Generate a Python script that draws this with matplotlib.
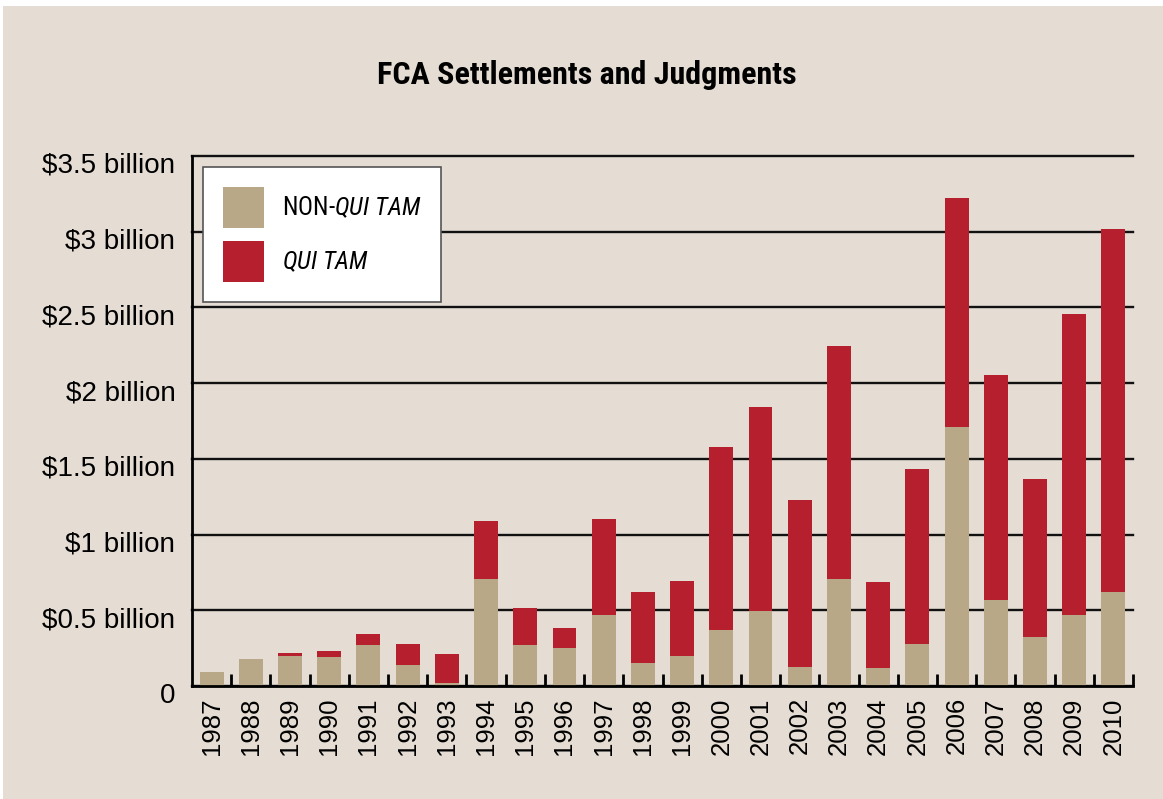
import matplotlib.pyplot as plt
from matplotlib import font_manager
from matplotlib.patches import Rectangle
from matplotlib.transforms import ScaledTranslation
import numpy as np

# values in $ billions
years = [str(y) for y in range(1987, 2011)]
non_qui_tam = [0.09, 0.177, 0.195, 0.189, 0.269, 0.137, 0.019, 0.705, 0.269, 0.25,
               0.467, 0.151, 0.195, 0.368, 0.493, 0.123, 0.705, 0.118, 0.276, 1.71,
               0.566, 0.321, 0.467, 0.618]
qui_tam = [0.0, 0.0, 0.022, 0.039, 0.073, 0.139, 0.191, 0.382, 0.245, 0.132,
           0.633, 0.467, 0.496, 1.208, 1.347, 1.104, 1.538, 0.566, 1.156, 1.512,
           1.486, 1.045, 1.989, 2.399]
y_ticks = [0, 0.5, 1, 1.5, 2, 2.5, 3, 3.5]
y_labels = ['0', '$0.5 billion', '$1 billion', '$1.5 billion', '$2 billion',
            '$2.5 billion', '$3 billion', '$3.5 billion']

bg = '#e5ddd3'
tan = '#b8a888'
red = '#b51f2e'

# the original uses Helvetica Condensed; pick the closest narrow face installed
prefs = ['Roboto Condensed', 'Liberation Sans Narrow', 'Archivo Narrow',
         'Fira Sans Condensed', 'Barlow Semi Condensed']
fonts = font_manager.fontManager.ttflist


def has_weight(name, bold):
    for f in fonts:
        if f.name == name and f.style == 'normal':
            w = f.weight if isinstance(f.weight, int) else (700 if f.weight == 'bold' else 400)
            if (w >= 700) == bold:
                return True
    return False


narrow = next((n for n in prefs if has_weight(n, False)), 'Liberation Sans')
narrow_bold = next((n for n in prefs if has_weight(n, True)), 'Liberation Sans')

plt.rcParams['font.family'] = ['Liberation Sans', 'DejaVu Sans']
plt.rcParams['mathtext.fontset'] = 'custom'
plt.rcParams['mathtext.rm'] = narrow
plt.rcParams['mathtext.it'] = narrow + ':italic'

fig = plt.figure(figsize=(11.63, 7.99), dpi=100, facecolor='white')
# beige panel, leaving the thin white strip at top/left
fig.patches.append(Rectangle((0.003, 0), 0.997, 0.9925, transform=fig.transFigure,
                             facecolor=bg, edgecolor='none', zorder=-10))

ax = fig.add_axes([0.1651, 0.1414, 0.8091, 0.6634])
ax.set_facecolor(bg)
ax.patch.set_alpha(0)

x = np.arange(len(years))
ax.bar(x, non_qui_tam, width=0.61, color=tan, label='NON-$\\mathit{QUI\\ TAM}$', zorder=3)
ax.bar(x, qui_tam, width=0.61, bottom=non_qui_tam, color=red,
       label='$\\mathit{QUI\\ TAM}$', zorder=3)

ax.set_xlim(-0.5, len(years) - 0.5)
ax.set_ylim(0, 3.5)

ax.set_yticks(y_ticks)
ax.set_yticklabels(y_labels, fontsize=20)
ax.tick_params(axis='y', length=0, pad=12)
for lbl in ax.get_yticklabels():
    lbl.set_transform(lbl.get_transform() + ScaledTranslation(0, -0.07, fig.dpi_scale_trans))

ax.set_xticks(x)
ax.set_xticklabels(years, rotation=90, fontsize=18.5)
ax.tick_params(axis='x', which='major', length=0, pad=8)
ax.set_xticks(np.arange(0.5, len(years), 1), minor=True)
ax.tick_params(axis='x', which='minor', direction='in', length=9, width=2, color='black')

ax.grid(axis='y', color='#111111', linewidth=1.7, zorder=1)
for gl in ax.get_ygridlines():
    gl.set_clip_on(False)
ax.set_axisbelow(True)
for s in ['top', 'right']:
    ax.spines[s].set_visible(False)
for s in ['left', 'bottom']:
    ax.spines[s].set_linewidth(2)
    ax.spines[s].set_zorder(4)

leg_size = 18
leg = ax.legend(loc='upper left', prop={'family': [narrow, 'DejaVu Sans'], 'size': leg_size},
                frameon=True, fancybox=False, shadow=False, framealpha=1,
                handlelength=29.5 / leg_size, handleheight=(29.5 / leg_size - 0.245) / 0.65,
                handletextpad=0.7, labelspacing=0.5, borderpad=0.8, borderaxespad=0.45)
leg.get_frame().set_facecolor('white')
leg.get_frame().set_edgecolor('#555555')
leg.get_frame().set_linewidth(1.2)
leg.set_zorder(5)

fig.text(0.5043, 0.906, 'FCA Settlements and Judgments', ha='center', va='center',
         fontsize=23, fontweight='bold', family=[narrow_bold, 'DejaVu Sans'])

fig.savefig('out.png', dpi=100, facecolor=fig.get_facecolor())
